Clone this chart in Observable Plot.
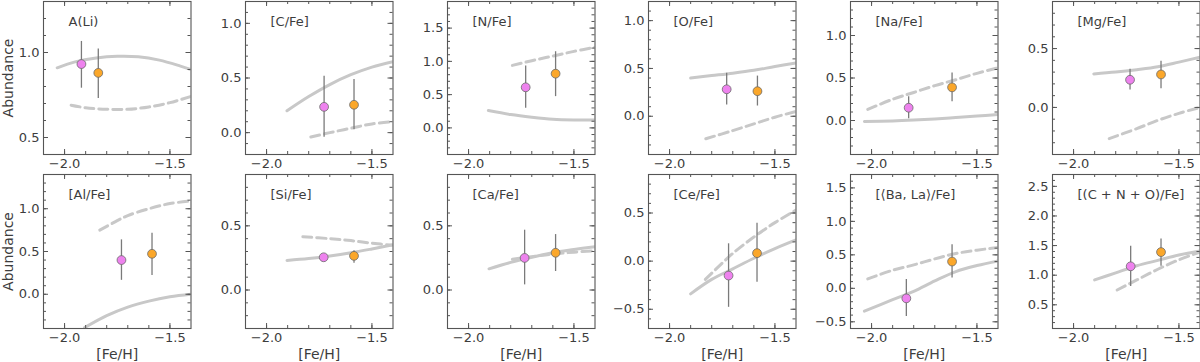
<!DOCTYPE html>
<html><head><meta charset="utf-8">
<script src="https://cdn.jsdelivr.net/npm/d3@7"></script>
<script src="https://cdn.jsdelivr.net/npm/@observablehq/plot@0.6"></script>
<style>
html,body{margin:0;padding:0;background:#fff;}
#chart{position:relative;width:1200px;height:362px;overflow:hidden;font-family:"DejaVu Sans",sans-serif;}
#chart svg{position:absolute;}
</style></head><body><div id="chart"></div>
<script>
const titles = ["A(Li)", "[C/Fe]", "[N/Fe]", "[O/Fe]", "[Na/Fe]", "[Mg/Fe]",
  "[Al/Fe]", "[Si/Fe]", "[Ca/Fe]", "[Ce/Fe]", "[⟨Ba, La⟩/Fe]", "[(C + N + O)/Fe]"];
const xDomain = [-2.1, -1.4];
const xTickLabels = [-2.0, -1.5];
const yDomains = [[0.4,1.3],[-0.2,1.2],[-0.4,1.9],[-0.4,1.2],[-0.4,1.4],[-0.4,0.9],
  [-0.4,1.4],[-0.3,0.9],[-0.3,0.9],[-0.7,0.9],[-0.6,1.7],[0.1,2.7]];
const yTickLabels = [[0.5,1.0],[0,0.5,1.0],[0,0.5,1.0,1.5],[0,0.5,1.0],[0,0.5,1.0],[0,0.5],
  [0,0.5,1.0],[0,0.5],[0,0.5],[-0.5,0,0.5],[-0.5,0,0.5,1.0,1.5],[0.5,1.0,1.5,2.0,2.5]];

// star 1 (violet)
const pinkX   = [-1.92,-1.727,-1.729,-1.729,-1.824,-1.732,-1.73,-1.729,-1.734,-1.72,-1.835,-1.729];
const pinkY   = [0.932,0.236,0.61,0.282,0.15,0.235,0.40,0.255,0.25,-0.15,-0.15,1.15];
const pinkLo  = [0.79,-0.043,0.295,0.117,0.02,0.147,0.163,0.23,0.04,-0.48,-0.42,0.81];
const pinkHi  = [1.065,0.515,0.93,0.45,0.278,0.325,0.636,0.28,0.466,0.18,0.13,1.49];
// star 2 (orange)
const orangeX  = [-1.84,-1.585,-1.587,-1.583,-1.618,-1.585,-1.585,-1.585,-1.587,-1.585,-1.618,-1.585];
const orangeY  = [0.88,0.255,0.815,0.262,0.39,0.28,0.473,0.266,0.29,0.083,0.40,1.39];
const orangeLo = [0.73,0.027,0.47,0.107,0.22,0.158,0.22,0.208,0.144,-0.22,0.155,1.15];
const orangeHi = [1.02,0.487,1.145,0.42,0.56,0.393,0.714,0.305,0.432,0.393,0.65,1.61];

// model curves: solid
const modelSolid = [
 [[-2.035,0.91],[-1.95,0.945],[-1.85,0.968],[-1.75,0.978],[-1.65,0.975],[-1.55,0.955],[-1.45,0.92],[-1.4,0.90]],
 [[-1.903,0.2],[-1.8,0.33],[-1.7,0.44],[-1.6,0.53],[-1.5,0.6],[-1.4,0.65]],
 [[-1.906,0.26],[-1.8,0.2],[-1.7,0.16],[-1.6,0.13],[-1.5,0.12],[-1.4,0.12]],
 [[-1.9,0.40],[-1.8,0.425],[-1.7,0.45],[-1.6,0.48],[-1.5,0.52],[-1.4,0.557]],
 [[-2.034,-0.012],[-1.9,-0.005],[-1.8,0.005],[-1.7,0.018],[-1.6,0.035],[-1.5,0.052],[-1.4,0.07]],
 [[-1.904,0.285],[-1.8,0.30],[-1.7,0.32],[-1.6,0.345],[-1.5,0.385],[-1.4,0.427]],
 [[-1.905,-0.39],[-1.8,-0.25],[-1.7,-0.15],[-1.6,-0.08],[-1.5,-0.03],[-1.4,0.0]],
 [[-1.903,0.23],[-1.8,0.245],[-1.7,0.265],[-1.6,0.29],[-1.5,0.32],[-1.4,0.352]],
 [[-1.903,0.165],[-1.8,0.215],[-1.7,0.255],[-1.6,0.29],[-1.5,0.315],[-1.4,0.338]],
 [[-1.9,-0.34],[-1.8,-0.19],[-1.7,-0.08],[-1.6,0.03],[-1.5,0.13],[-1.4,0.22]],
 [[-2.034,-0.34],[-1.9,-0.17],[-1.8,-0.045],[-1.7,0.11],[-1.6,0.25],[-1.5,0.34],[-1.4,0.41]],
 [[-1.9,0.92],[-1.8,1.04],[-1.7,1.16],[-1.6,1.25],[-1.5,1.34],[-1.4,1.41]]
];
// model curves: dashed
const modelDashed = [
 [[-1.969,0.69],[-1.9,0.675],[-1.8,0.666],[-1.7,0.666],[-1.6,0.68],[-1.5,0.705],[-1.4,0.742]],
 [[-1.79,-0.04],[-1.7,0.0],[-1.6,0.04],[-1.5,0.08],[-1.4,0.10]],
 [[-1.792,0.94],[-1.7,1.01],[-1.6,1.08],[-1.5,1.15],[-1.4,1.21]],
 [[-1.828,-0.235],[-1.7,-0.15],[-1.6,-0.08],[-1.5,-0.01],[-1.4,0.05]],
 [[-2.018,0.13],[-1.9,0.25],[-1.8,0.33],[-1.7,0.41],[-1.6,0.48],[-1.5,0.555],[-1.4,0.62]],
 [[-1.831,-0.265],[-1.7,-0.18],[-1.6,-0.11],[-1.5,-0.05],[-1.4,0.0]],
 [[-1.833,0.75],[-1.75,0.86],[-1.7,0.92],[-1.6,1.0],[-1.5,1.06],[-1.4,1.09]],
 [[-1.828,0.415],[-1.7,0.40],[-1.6,0.385],[-1.5,0.365],[-1.4,0.348]],
 [[-1.792,0.24],[-1.7,0.26],[-1.6,0.28],[-1.5,0.295],[-1.4,0.306]],
 [[-1.83,-0.19],[-1.75,-0.02],[-1.7,0.08],[-1.6,0.25],[-1.5,0.40],[-1.4,0.53]],
 [[-2.018,0.14],[-1.9,0.27],[-1.8,0.35],[-1.7,0.44],[-1.6,0.52],[-1.5,0.57],[-1.4,0.61]],
 [[-1.793,0.75],[-1.7,0.92],[-1.6,1.10],[-1.5,1.26],[-1.4,1.39]]
];

const colLeft = [43, 244.7, 446.7, 648, 850, 1052];
const frameW = 147.5;
const rowTop = [0, 173];
const frameH = [153, 154];
const ML = 43, MR = 4, MT = 1;
const frameColor = "#555";
const textColor = "#3d3d3d";
const modelColor = "#c8c8c8";
const fmt = d => (d < 0 ? "\u2212" : "") + Math.abs(d).toFixed(1);
const chart = document.getElementById("chart");

titles.forEach((title, i) => {
  const row = Math.floor(i / 6), col = i % 6;
  const fh = frameH[row];
  const MB = row === 0 ? 20 : 35;
  const [ylo, yhi] = yDomains[i];
  const yMinor = d3.range(Math.ceil(ylo * 10 + 1e-6), Math.floor(yhi * 10 - 1e-6) + 1).map(k => k / 10);
  const xMinor = d3.range(-20, -14).map(k => k / 10);
  const stars = [
    {x: pinkX[i], y: pinkY[i], lo: pinkLo[i], hi: pinkHi[i], c: "#ee82ee"},
    {x: orangeX[i], y: orangeY[i], lo: orangeLo[i], hi: orangeHi[i], c: "#fba72a"}
  ];
  const marks = [
    Plot.line(modelSolid[i], {x: d => d[0], y: d => d[1], stroke: modelColor, strokeWidth: 3, curve: "catmull-rom", clip: true}),
    Plot.line(modelDashed[i], {x: d => d[0], y: d => d[1], stroke: modelColor, strokeWidth: 3, strokeDasharray: "9,5", curve: "catmull-rom", clip: true}),
    Plot.ruleX(stars, {x: "x", y1: "lo", y2: "hi", stroke: "#7a7a7a", strokeWidth: 1.3}),
    Plot.dot(stars, {x: "x", y: "y", r: 4.4, fill: "c", stroke: "#6a6a6a", strokeWidth: 0.8}),
    // inward ticks on all four sides
    Plot.tickX(xMinor, {x: d => d, insetTop: fh - 3, stroke: frameColor}),
    Plot.tickX(xMinor, {x: d => d, insetBottom: fh - 3, stroke: frameColor}),
    Plot.tickX(xTickLabels, {x: d => d, insetTop: fh - 5, stroke: frameColor}),
    Plot.tickX(xTickLabels, {x: d => d, insetBottom: fh - 5, stroke: frameColor}),
    Plot.tickY(yMinor, {y: d => d, insetRight: frameW - 3, stroke: frameColor}),
    Plot.tickY(yMinor, {y: d => d, insetLeft: frameW - 3, stroke: frameColor}),
    Plot.tickY(yTickLabels[i], {y: d => d, insetRight: frameW - 5, stroke: frameColor}),
    Plot.tickY(yTickLabels[i], {y: d => d, insetLeft: frameW - 5, stroke: frameColor}),
    Plot.axisX({ticks: xTickLabels, tickSize: 0, tickPadding: 4, tickFormat: fmt, label: null, fontSize: 13, color: textColor}),
    Plot.axisY({ticks: yTickLabels[i], tickSize: 0, tickPadding: 4, tickFormat: fmt, label: null, fontSize: 13, color: textColor}),
    Plot.frame({stroke: frameColor, strokeWidth: 1.1}),
    Plot.text([title], {frameAnchor: "top-left", dx: 25, dy: 20, textAnchor: "start", lineAnchor: "middle", fontSize: 13, fill: textColor})
  ];
  if (col === 0) {
    marks.push(Plot.text(["Abundance"], {frameAnchor: "left", dx: -35, rotate: -90, textAnchor: "middle", lineAnchor: "middle", fontSize: 14, fill: textColor}));
  }
  if (row === 1) {
    marks.push(Plot.text(["[Fe/H]"], {frameAnchor: "bottom", dy: 26, textAnchor: "middle", lineAnchor: "middle", fontSize: 14, fill: textColor}));
  }
  const svg = Plot.plot({
    width: ML + frameW + MR,
    height: MT + fh + MB,
    marginLeft: ML, marginRight: MR, marginTop: MT, marginBottom: MB,
    x: {domain: xDomain, axis: null},
    y: {domain: yDomains[i], axis: null},
    style: {background: "transparent", fontFamily: "DejaVu Sans", fontSize: "13px", color: textColor, overflow: "visible"},
    marks
  });
  svg.style.left = (colLeft[col] - ML) + "px";
  svg.style.top = rowTop[row] + "px";
  chart.appendChild(svg);
});
</script></body></html>
